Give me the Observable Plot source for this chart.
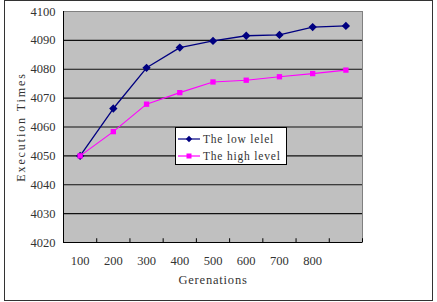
<!DOCTYPE html>
<html>
<head>
<meta charset="utf-8">
<script src="https://cdn.jsdelivr.net/npm/d3@7"></script>
<script src="https://cdn.jsdelivr.net/npm/@observablehq/plot@0.6"></script>
<style>
  html, body { margin: 0; padding: 0; background: #fff; }
  #wrap { position: relative; width: 437px; height: 302px; overflow: hidden; }
  #border { position: absolute; left: 4px; top: 0px; width: 427px; height: 299px; border: 1.5px solid #333; box-sizing: content-box; pointer-events: none; }
  #chart { position: absolute; left: 0; top: 0; }
  #legend { position: absolute; left: 175px; top: 127px; width: 112px; height: 38px; background: #fff; border: 1px solid #000; box-sizing: border-box; font-family: "Liberation Serif", serif; font-size: 11.5px; letter-spacing: 0.8px; color: #333; }
  .entry { position: absolute; left: 2px; height: 16px; display: flex; align-items: center; white-space: nowrap; }
  .entry svg { margin-right: 3px; }
  .ytitle text { letter-spacing: 1.9px; }
  .xtitle text { letter-spacing: 0.8px; }
</style>
</head>
<body>
<div id="wrap">
  <div id="chart"></div>
  <div id="border"></div>
  <div id="legend"></div>
</div>
<script>
const generations = [100, 200, 300, 400, 500, 600, 700, 800, 900];
const lowLevel  = [4050, 4066.4, 4080.5, 4087.5, 4089.8, 4091.6, 4091.9, 4094.6, 4095.0];
const highLevel = [4050, 4058.4, 4067.9, 4071.9, 4075.6, 4076.2, 4077.4, 4078.5, 4079.7];
const xTickLabels = [100, 200, 300, 400, 500, 600, 700, 800];
const yTicks = [4020, 4030, 4040, 4050, 4060, 4070, 4080, 4090, 4100];
const xBoundaries = [150, 250, 350, 450, 550, 650, 750, 850, 950];
const seriesNames = ["The low lelel", "The high level"];
const colors = ["#000080", "#ff00ff"];

const rows = generations.map((g, i) => ({g, low: lowLevel[i], high: highLevel[i]}));

const chart = Plot.plot({
  width: 437,
  height: 302,
  marginLeft: 63,
  marginRight: 75,
  marginTop: 11,
  marginBottom: 60,
  style: {fontFamily: "Liberation Serif", fontSize: "12.5px", color: "#333", background: "transparent"},
  x: {domain: [50, 950]},
  y: {domain: [4020, 4100]},
  marks: [
    Plot.frame({fill: "#c0c0c0", stroke: "#808080"}),
    Plot.ruleY(yTicks.slice(1, -1), {stroke: "#111", strokeWidth: 1.2}),
    Plot.ruleX([50], {stroke: "#000"}),
    Plot.ruleY([4020], {stroke: "#000"}),
    Plot.ruleX(xBoundaries, {y1: 4020, y2: 4021.3, stroke: "#000"}),
    Plot.line(rows, {x: "g", y: "low", stroke: colors[0], strokeWidth: 1.3}),
    Plot.line(rows, {x: "g", y: "high", stroke: colors[1], strokeWidth: 1.1}),
    Plot.dot(rows, {x: "g", y: "low", symbol: "diamond2", fill: colors[0], stroke: colors[0], r: 2.8}),
    Plot.dot(rows, {x: "g", y: "high", symbol: "square", fill: colors[1], r: 3}),
    Plot.axisY({ticks: yTicks, tickSize: 0, tickPadding: 8, tickFormat: d => String(d), label: null}),
    Plot.axisX({ticks: xTickLabels, tickSize: 0, tickPadding: 14, tickFormat: d => String(d), label: null}),
    Plot.text(["Execution Times"], {frameAnchor: "left", dx: -42, rotate: -90, textAnchor: "middle", fontFamily: "Liberation Serif", fontSize: 12, fill: "#333", className: "ytitle"}),
    Plot.text(["Gerenations"], {frameAnchor: "bottom", dy: 41, textAnchor: "middle", fontFamily: "Liberation Serif", fontSize: 12.5, fill: "#333", className: "xtitle"})
  ]
});
document.getElementById("chart").appendChild(chart);

const legend = document.getElementById("legend");
seriesNames.forEach((name, i) => {
  const e = document.createElement("div");
  e.className = "entry";
  e.style.top = (i === 0 ? 3 : 20) + "px";
  const sym = i === 0
    ? `<polygon points="11,1.8 14.2,5 11,8.2 7.8,5" fill="${colors[i]}"/>`
    : `<rect x="8.5" y="2.5" width="5" height="5" fill="${colors[i]}"/>`;
  e.innerHTML = `<svg width="22" height="10"><line x1="0" y1="5" x2="22" y2="5" stroke="${colors[i]}" stroke-width="1.2"/>${sym}</svg><span>${name}</span>`;
  legend.appendChild(e);
});
</script>
</body>
</html>
